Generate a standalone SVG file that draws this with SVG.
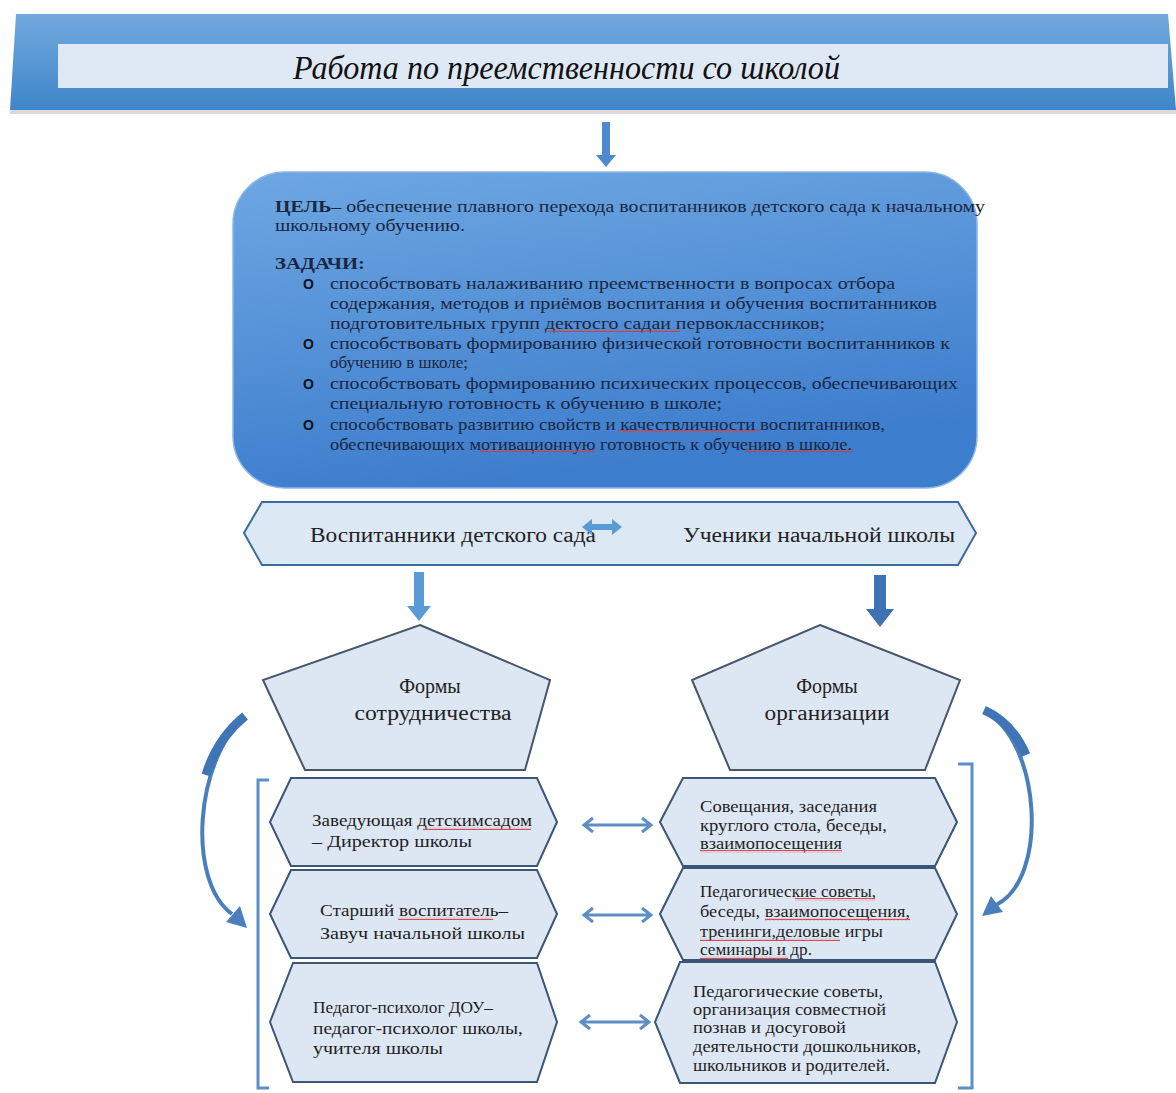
<svg xmlns="http://www.w3.org/2000/svg" width="1176" height="1093" viewBox="0 0 1176 1093">
<defs>
<linearGradient id="gBanner" x1="0" y1="0" x2="0" y2="1">
<stop offset="0" stop-color="#72a9de"/>
<stop offset="1" stop-color="#3f86c9"/>
</linearGradient>
<linearGradient id="gGoal" x1="0" y1="0" x2="0.3" y2="1">
<stop offset="0" stop-color="#6ea7e2"/>
<stop offset="1" stop-color="#3d7dcd"/>
</linearGradient>
<pattern id="wave" width="4" height="3" patternUnits="userSpaceOnUse">
<path d="M0,2.2 L1,0.8 L2,2.2 L3,0.8 L4,2.2" fill="none" stroke="#d83a3a" stroke-width="0.9"/>
</pattern>
<style>
.serif{font-family:"Liberation Serif","Times New Roman",serif;}
.goal{font-family:"Liberation Serif","Times New Roman",serif;font-size:17px;fill:#1b2640;}
.hex{fill:#dde7f3;stroke:#3b5577;stroke-width:2;}
.pent{fill:#dde7f3;stroke:#46566b;stroke-width:2;}
.lbl{font-family:"Liberation Serif","Times New Roman",serif;font-size:17px;fill:#1f1f1f;}
.big{font-family:"Liberation Serif","Times New Roman",serif;font-size:20px;fill:#222;}
.bul{font-family:"Liberation Sans",Arial,sans-serif;font-size:14px;font-weight:bold;fill:#111;}
.dbl{fill:none;stroke:#5d8ec4;stroke-width:3;}
.sq{fill:url(#wave);}
</style>
</defs>

<g id="header">
<polygon points="16,14 1168,14 1176,110 10,110" fill="url(#gBanner)"/>
<rect x="10" y="110" width="1166" height="4" fill="#c9ccd2" opacity="0.7"/>
<rect x="58" y="44" width="1110" height="44" fill="#dfe9f5"/>
<text class="serif" x="293" y="79" font-size="34" font-style="italic" fill="#111" textLength="547" lengthAdjust="spacingAndGlyphs">Работа по преемственности со школой</text>
</g>

<g id="goal">
<rect x="233" y="172" width="744" height="316" rx="52" fill="url(#gGoal)" stroke="#8db6e6" stroke-width="1.5"/>
<text class="goal" x="275" y="212" textLength="710" lengthAdjust="spacingAndGlyphs"><tspan font-weight="bold">ЦЕЛЬ</tspan>– обеспечение плавного перехода воспитанников детского сада к начальному</text>
<text class="goal" x="275" y="231" textLength="190" lengthAdjust="spacingAndGlyphs">школьному обучению.</text>
<text class="goal" x="275" y="269" font-size="18" font-weight="bold" textLength="90" lengthAdjust="spacingAndGlyphs">ЗАДАЧИ:</text>
<text class="bul" x="303" y="289">O</text>
<text class="goal" x="330" y="289" textLength="565" lengthAdjust="spacingAndGlyphs">способствовать налаживанию преемственности в вопросах отбора</text>
<text class="goal" x="330" y="309" textLength="607" lengthAdjust="spacingAndGlyphs">содержания, методов и приёмов воспитания и обучения воспитанников</text>
<text class="goal" x="330" y="329" textLength="495" lengthAdjust="spacingAndGlyphs">подготовительных групп дектосго садаи первоклассников;</text>
<text class="bul" x="303" y="349">O</text>
<text class="goal" x="330" y="349" textLength="620" lengthAdjust="spacingAndGlyphs">способствовать формированию физической готовности воспитанников к</text>
<text class="goal" x="330" y="368">обучению в школе;</text>
<text class="bul" x="303" y="389">O</text>
<text class="goal" x="330" y="389" textLength="628" lengthAdjust="spacingAndGlyphs">способствовать формированию психических процессов, обеспечивающих</text>
<text class="goal" x="330" y="409" textLength="392" lengthAdjust="spacingAndGlyphs">специальную готовность к обучению в школе;</text>
<text class="bul" x="303" y="430">O</text>
<text class="goal" x="330" y="430" textLength="555" lengthAdjust="spacingAndGlyphs">способствовать развитию свойств и качествличности воспитанников,</text>
<text class="goal" x="330" y="450" textLength="522" lengthAdjust="spacingAndGlyphs">обеспечивающих мотивационную готовность к обучению в школе.</text>
</g>

<g id="groups">
<polygon points="244,533 262,502 958,502 976,533 958,565 262,565" fill="#dde8f5" stroke="#3d6b9c" stroke-width="2"/>
<text class="big" x="310" y="542" textLength="286" lengthAdjust="spacingAndGlyphs">Воспитанники детского сада</text>
<text class="big" x="683" y="542" textLength="272" lengthAdjust="spacingAndGlyphs">Ученики начальной школы</text>
</g>

<g id="forms-coop">
<polygon class="pent" points="420,625 550,680 525,770 305,770 263,680"/>
<text class="big" x="430" y="693" text-anchor="middle" font-size="19">Формы</text>
<text class="big" x="433" y="720" text-anchor="middle" font-size="19" textLength="157" lengthAdjust="spacingAndGlyphs">сотрудничества</text>
</g>

<g id="forms-org">
<polygon class="pent" points="820,625 960,680 925,770 730,770 692,680"/>
<text class="big" x="827" y="693" text-anchor="middle" font-size="19">Формы</text>
<text class="big" x="827" y="720" text-anchor="middle" font-size="19" textLength="125" lengthAdjust="spacingAndGlyphs">организации</text>
</g>

<g id="coop-1">
<polygon class="hex" points="270,822 291,778 537,778 557,822 537,866 291,866"/>
<text class="lbl" x="312" y="826" textLength="220" lengthAdjust="spacingAndGlyphs">Заведующая детскимсадом</text>
<text class="lbl" x="312" y="847" textLength="160" lengthAdjust="spacingAndGlyphs">– Директор школы</text>
</g>
<g id="coop-2">
<polygon class="hex" points="270,914 291,870 537,870 557,914 537,958 291,958"/>
<text class="lbl" x="320" y="916" textLength="188" lengthAdjust="spacingAndGlyphs">Старший воспитатель–</text>
<text class="lbl" x="320" y="939" textLength="205" lengthAdjust="spacingAndGlyphs">Завуч начальной школы</text>
</g>
<g id="coop-3">
<polygon class="hex" points="270,1022 293,963 537,963 557,1022 537,1082 293,1082"/>
<text class="lbl" x="313" y="1013" textLength="180" lengthAdjust="spacingAndGlyphs">Педагог-психолог ДОУ–</text>
<text class="lbl" x="313" y="1034" textLength="210" lengthAdjust="spacingAndGlyphs">педагог-психолог школы,</text>
<text class="lbl" x="313" y="1054" textLength="130" lengthAdjust="spacingAndGlyphs">учителя школы</text>
</g>

<g id="org-1">
<polygon class="hex" points="660,822 683,778 935,778 957,822 935,866 683,866"/>
<text class="lbl" x="700" y="812" textLength="177" lengthAdjust="spacingAndGlyphs">Совещания, заседания</text>
<text class="lbl" x="700" y="831" textLength="187" lengthAdjust="spacingAndGlyphs">круглого стола, беседы,</text>
<text class="lbl" x="700" y="849" textLength="142" lengthAdjust="spacingAndGlyphs">взаимопосещения</text>
</g>
<g id="org-2">
<polygon class="hex" points="660,914 683,868 935,868 957,914 935,960 683,960"/>
<text class="lbl" x="700" y="897" textLength="176" lengthAdjust="spacingAndGlyphs">Педагогические советы,</text>
<text class="lbl" x="700" y="917" textLength="210" lengthAdjust="spacingAndGlyphs">беседы, взаимопосещения,</text>
<text class="lbl" x="700" y="937" textLength="183" lengthAdjust="spacingAndGlyphs">тренинги,деловые игры</text>
<text class="lbl" x="700" y="955" textLength="112" lengthAdjust="spacingAndGlyphs">семинары и др.</text>
</g>
<g id="org-3">
<polygon class="hex" points="655,1022 680,962 935,962 957,1022 935,1083 680,1083"/>
<text class="lbl" x="693" y="997" textLength="190" lengthAdjust="spacingAndGlyphs">Педагогические  советы,</text>
<text class="lbl" x="693" y="1015" textLength="193" lengthAdjust="spacingAndGlyphs">организация совместной</text>
<text class="lbl" x="693" y="1033" textLength="153" lengthAdjust="spacingAndGlyphs">познав и досуговой</text>
<text class="lbl" x="693" y="1052" textLength="228" lengthAdjust="spacingAndGlyphs">деятельности дошкольников,</text>
<text class="lbl" x="693" y="1071" textLength="197" lengthAdjust="spacingAndGlyphs">школьников и родителей.</text>
</g>

<g id="spelling-marks">
<rect class="sq" x="548" y="329" width="132" height="3"/>
<rect class="sq" x="618" y="430" width="142" height="3"/>
<rect class="sq" x="480" y="450" width="115" height="3"/>
<rect class="sq" x="745" y="450" width="107" height="3"/>
<rect class="sq" x="423" y="827" width="108" height="3"/>
<rect class="sq" x="398" y="917" width="95" height="3"/>
<rect class="sq" x="700" y="850" width="142" height="3"/>
<rect class="sq" x="795" y="898" width="80" height="3"/>
<rect class="sq" x="765" y="918" width="145" height="3"/>
<rect class="sq" x="700" y="938" width="140" height="3"/>
<rect class="sq" x="700" y="956" width="88" height="3"/>
</g>

<g id="connectors">
<polygon points="602,122 610,122 610,155 616,155 606,167 596,155 602,155" fill="#4f8ad0"/>
<polygon points="582,527 592,519 592,524 612,524 612,519 622,527 612,535 612,530 592,530 592,535" fill="#5b9bd5"/>
<polygon points="414,572 424,572 424,606 431,606 419,621 407,606 414,606" fill="#5b9bd5"/>
<polygon points="874,575 886,575 886,609 894,609 880,627 866,609 874,609" fill="#3f72b5"/>
<path d="M269,780 H258 V1088 H269" fill="none" stroke="#5b8fc8" stroke-width="3"/>
<path d="M958,764 H972 V1088 H958" fill="none" stroke="#5b8fc8" stroke-width="3"/>
<path d="M244,718 C196,760 186,880 232,914" fill="none" stroke="#4a7fbd" stroke-width="4"/>
<path d="M245,716 C228,730 214,748 206,775" fill="none" stroke="#3f74b6" stroke-width="9"/>
<polygon points="247,928 226,922 240,906" fill="#4a7fbd"/>
<path d="M985,712 C1040,740 1050,878 996,905" fill="none" stroke="#4a7fbd" stroke-width="4"/>
<path d="M984,710 C1002,718 1016,732 1026,755" fill="none" stroke="#3f74b6" stroke-width="9"/>
<polygon points="982,916 991,896 1003,912" fill="#4a7fbd"/>
<path class="dbl" d="M584,825 H651 M593,818 L584,825 L593,832 M642,818 L651,825 L642,832"/>
<path class="dbl" d="M584,915 H651 M593,908 L584,915 L593,922 M642,908 L651,915 L642,922"/>
<path class="dbl" d="M581,1022 H649 M590,1015 L581,1022 L590,1029 M640,1015 L649,1022 L640,1029"/>
</g>
</svg>
